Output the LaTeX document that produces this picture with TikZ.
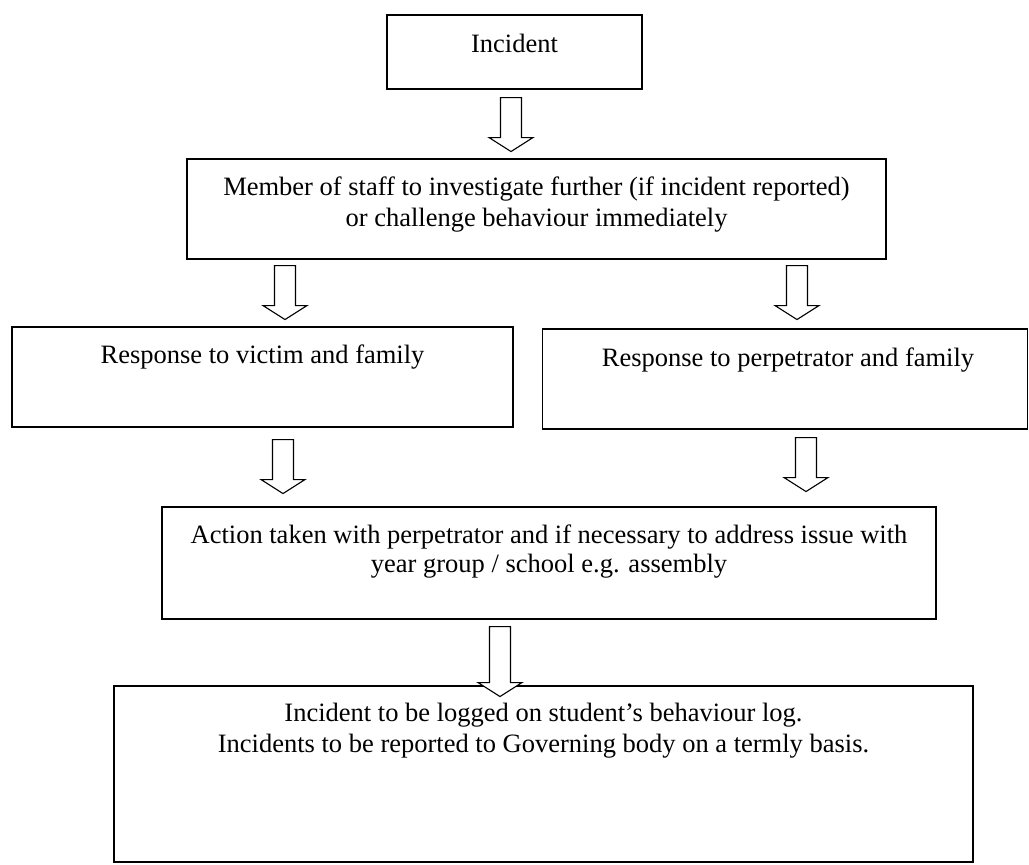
\documentclass[tikz,border=0pt]{standalone}
\usepackage{fontspec}
\setmainfont{Liberation Serif}
\usetikzlibrary{calc}
\tikzset{
  box/.style={draw, line width=1.1pt, rectangle, inner sep=0pt},
  txt/.style={anchor=base, inner sep=0pt, font=\fontsize{26.5}{31}\selectfont},
  barrow/.style={draw, line width=1.1pt, fill=white, line join=miter},
  pics/blockarrow/.style={code={
    \draw[barrow] (-10.5,0) -- (-10.5,#1) -- (-22,#1) -- (0,#1+14) -- (22,#1) -- (10.5,#1) -- (10.5,0) -- cycle;
  }}
}
\begin{document}
\begin{tikzpicture}[x=1pt,y=-1pt]
\useasboundingbox (0,0) rectangle (1029,865);
\fill[white] (0,0) rectangle (1029,865);

% boxes
\node[box, minimum width=255pt, minimum height=74pt] (b1) at (514.5,52) {};
\node[box, minimum width=699pt, minimum height=100pt] (b2) at (536.5,209) {};
\node[box, minimum width=501pt, minimum height=100pt] (b3l) at (262.5,377) {};
\node[box, minimum width=485pt, minimum height=100pt] (b3r) at (785,379) {};
\node[box, minimum width=774pt, minimum height=112pt] (b4) at (549,563) {};
\node[box, minimum width=859pt, minimum height=176pt] (b5) at (543.5,774) {};

% texts
\node[txt] (t1) at (514.5,52) {Incident};
\node[txt] (t2a) at (536.5,195) {Member of staff to investigate further (if incident reported)};
\node[txt] (t2b) at (536.5,226) {or challenge behaviour immediately};
\node[txt] (t3l) at (262.5,363) {Response to victim and family};
\node[txt] (t3r) at (788,366) {Response to perpetrator and family};
\node[txt] (t4a) at (549,543) {Action taken with perpetrator and if necessary to address issue with};
\node[txt] (t4b) at (549,572) {year group / school e.g. assembly};
\node[txt] (t5a) at (543.5,721) {Incident to be logged on student’s behaviour log.};
\node[txt] (t5b) at (543.5,752) {Incidents to be reported to Governing body on a termly basis.};

% block arrows
\pic at ($(b1.south)+(-3.5,8)$) {blockarrow=40};
\pic at ($(b2.south)+(-251.5,6)$) {blockarrow=40};
\pic at ($(b2.south)+(260.5,6)$) {blockarrow=40};
\pic at ($(b3l.south)+(20.5,12)$) {blockarrow=40};
\pic at ($(b3r.south)+(21,8)$) {blockarrow=40};
\pic at ($(b4.south)+(-49,7)$) {blockarrow=56};
\end{tikzpicture}
\end{document}
